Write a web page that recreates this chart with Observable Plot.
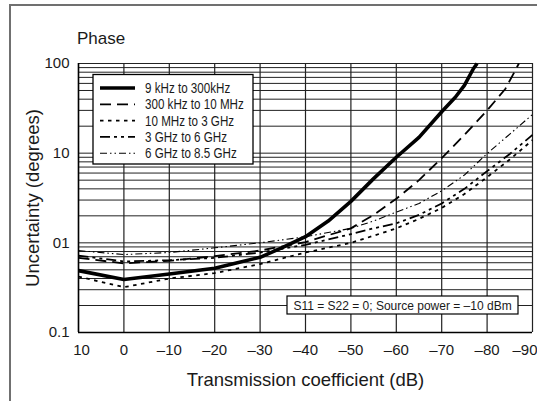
<!DOCTYPE html>
<html><head><meta charset="utf-8">
<script src="https://cdn.jsdelivr.net/npm/d3@7"></script>
<script src="https://cdn.jsdelivr.net/npm/@observablehq/plot@0.6"></script>
<style>
body{margin:0;background:#fff;}
#wrap{position:relative;width:537px;height:401px;overflow:hidden;font-family:"Liberation Sans",Arial,sans-serif;color:#1a1a1a;}
#frame{position:absolute;left:9px;top:4px;width:560px;height:420px;border-top:2px solid #707070;border-left:2px solid #707070;}
#title{position:absolute;left:77px;top:30px;font-size:17px;line-height:17px;}
#chart{position:absolute;left:0;top:0;}
#overlay{position:absolute;left:0;top:0;}
</style></head>
<body><div id="wrap"><div id="frame"></div><div id="chart"></div><div id="title">Phase</div><svg id="overlay" width="537" height="401"></svg></div>
<script>
// ---- data ----
const seriesNames = ["9 kHz to 300kHz", "300 kHz to 10 MHz", "10 MHz to 3 GHz", "3 GHz to 6 GHz", "6 GHz to 8.5 GHz"];

const s1X = [10, 0, -10, -20, -25, -30, -35, -40, -45, -50, -55, -60, -65, -70, -73, -75, -77, -77.8];
const s1Y = [0.49, 0.39, 0.45, 0.52, 0.6, 0.69, 0.89, 1.17, 1.75, 2.9, 5.2, 9.0, 15, 29, 42, 57, 88, 100];

const s2X = [10, 0, -10, -20, -30, -40, -50, -55, -60, -65, -70, -75, -80, -84, -86, -87];
const s2Y = [0.68, 0.59, 0.63, 0.71, 0.82, 1.02, 1.45, 2.05, 3.1, 5.0, 8.8, 16, 30, 52, 80, 100];

const s3X = [10, 0, -10, -20, -30, -40, -50, -55, -60, -65, -70, -75, -80, -85, -90];
const s3Y = [0.42, 0.32, 0.4, 0.46, 0.58, 0.78, 1.0, 1.2, 1.45, 1.85, 2.45, 3.5, 5.4, 8.5, 14];

const s4X = [10, 0, -10, -20, -30, -40, -50, -55, -60, -65, -70, -75, -80, -85, -90];
const s4Y = [0.72, 0.62, 0.64, 0.68, 0.78, 0.95, 1.25, 1.45, 1.65, 2.05, 2.75, 4.0, 6.3, 9.8, 16];

const s5X = [10, 0, -10, -20, -30, -40, -50, -55, -60, -65, -70, -75, -80, -85, -90];
const s5Y = [0.82, 0.74, 0.78, 0.88, 1.0, 1.17, 1.45, 1.75, 2.2, 2.75, 3.8, 5.7, 9.9, 16.3, 27];

const xTicks = [10, 0, -10, -20, -30, -40, -50, -60, -70, -80, -90];
const xTickLabels = ["10", "0", "–10", "–20", "–30", "–40", "–50", "–60", "–70", "–80", "–90"];
const yTicks = [0.1, 1, 10, 100];
const yTickLabels = ["0.1", "01", "10", "100"];
const yGrid = [0.1,0.2,0.3,0.4,0.5,0.6,0.7,0.8,0.9,1,2,3,4,5,6,7,8,9,10,20,30,40,50,60,70,80,90,100];
const xLabel = "Transmission coefficient (dB)";
const yLabel = "Uncertainty (degrees)";
const note = "S11 = S22 = 0; Source power = –10 dBm";

// ---- styles ----
const styles = [
  {strokeWidth: 3.6, dash: null},
  {strokeWidth: 1.8, dash: "11,6"},
  {strokeWidth: 1.8, dash: "3.5,4.5"},
  {strokeWidth: 1.8, dash: "10,4,3,4,3,4"},
  {strokeWidth: 1.1, dash: "7,3,1.5,3,1.5,3"}
];
const FONT = '"Liberation Sans",Arial,sans-serif';

const allX = [s1X, s2X, s3X, s4X, s5X];
const allY = [s1Y, s2Y, s3Y, s4Y, s5Y];
const seriesData = allX.map((xs, k) => xs.map((x, i) => ({series: seriesNames[k], x, y: allY[k][i]})));

const xLab = new Map(xTicks.map((t, i) => [t, xTickLabels[i]]));
const yLab = new Map(yTicks.map((t, i) => [t, yTickLabels[i]]));
const firstX = xTicks.slice(0, 1), midX = xTicks.slice(1, -1), lastX = xTicks.slice(-1);

const plot = Plot.plot({
  width: 537,
  height: 401,
  marginLeft: 78,
  marginRight: 5,
  marginTop: 63,
  marginBottom: 69,
  style: {fontFamily: FONT, fontSize: "15px", color: "#1a1a1a", background: "transparent"},
  x: {domain: [10, -90], axis: null},
  y: {type: "log", domain: [0.1, 100], axis: null},
  marks: [
    Plot.ruleY(yGrid, {stroke: "#222", strokeWidth: 1, strokeOpacity: 1}),
    Plot.ruleX(xTicks, {stroke: "#222", strokeWidth: 1.2, strokeOpacity: 1}),
    Plot.axisX({ticks: midX, tickFormat: d => xLab.get(d), tickSize: 0, tickPadding: 12, label: null}),
    Plot.axisX({ticks: firstX, tickFormat: d => xLab.get(d), tickSize: 0, tickPadding: 12, label: null, dx: 3}),
    Plot.axisX({ticks: lastX, tickFormat: d => xLab.get(d), tickSize: 0, tickPadding: 12, label: null, textAnchor: "end", dx: 5}),
    Plot.axisY({ticks: yTicks, tickFormat: d => yLab.get(d), tickSize: 0, tickPadding: 9, label: null}),
    Plot.text([xLabel], {frameAnchor: "bottom", dy: 48, lineAnchor: "middle", textAnchor: "middle", fontSize: 18.5, fill: "#1a1a1a"}),
    Plot.text([yLabel], {frameAnchor: "left", dx: -45, rotate: -90, lineAnchor: "middle", textAnchor: "middle", fontSize: 18.5, fill: "#1a1a1a"}),
    ...seriesData.map((d, k) => Plot.line(d, {x: "x", y: "y", stroke: "black",
      strokeWidth: styles[k].strokeWidth, strokeDasharray: styles[k].dash, strokeLinecap: "butt", strokeLinejoin: "round"})),
    Plot.ruleX([10], {stroke: "black", strokeWidth: 1.5}),
    Plot.ruleY([0.1], {stroke: "black", strokeWidth: 1.5})
  ]
});
document.getElementById("chart").appendChild(plot);

// ---- legend & note (layout overlay) ----
const ov = d3.select("#overlay");
function condense(node, f) { const L = node.getComputedTextLength(); node.setAttribute("textLength", L * f); node.setAttribute("lengthAdjust", "spacingAndGlyphs"); return L * f; }
const lg = ov.append("g").attr("transform", "translate(93,74.5)");
lg.append("rect").attr("width", 160).attr("height", 89.5).attr("fill", "white").attr("stroke", "black").attr("stroke-width", 1.3);
seriesNames.forEach((name, k) => {
  const yy = 13.5 + k * 16.3;
  lg.append("line").attr("x1", 7).attr("x2", 42).attr("y1", yy).attr("y2", yy)
    .attr("stroke", "black").attr("stroke-width", styles[k].strokeWidth)
    .attr("stroke-dasharray", styles[k].dash);
  const t = lg.append("text").attr("x", 52).attr("y", yy).attr("dy", "0.36em")
    .attr("font-size", 14).attr("fill", "#1a1a1a").attr("font-family", FONT).text(name);
  condense(t.node(), 0.83);
});
const ng = ov.append("g").attr("transform", "translate(287,296)");
ng.append("rect").attr("width", 231).attr("height", 18).attr("fill", "white").attr("stroke", "black").attr("stroke-width", 1.2);
ng.append("text").attr("x", 115.5).attr("y", 9.5).attr("dy", "0.36em").attr("text-anchor", "middle")
  .attr("font-size", 12).attr("fill", "#1a1a1a").attr("font-family", FONT).text(note);
</script>
</body></html>
